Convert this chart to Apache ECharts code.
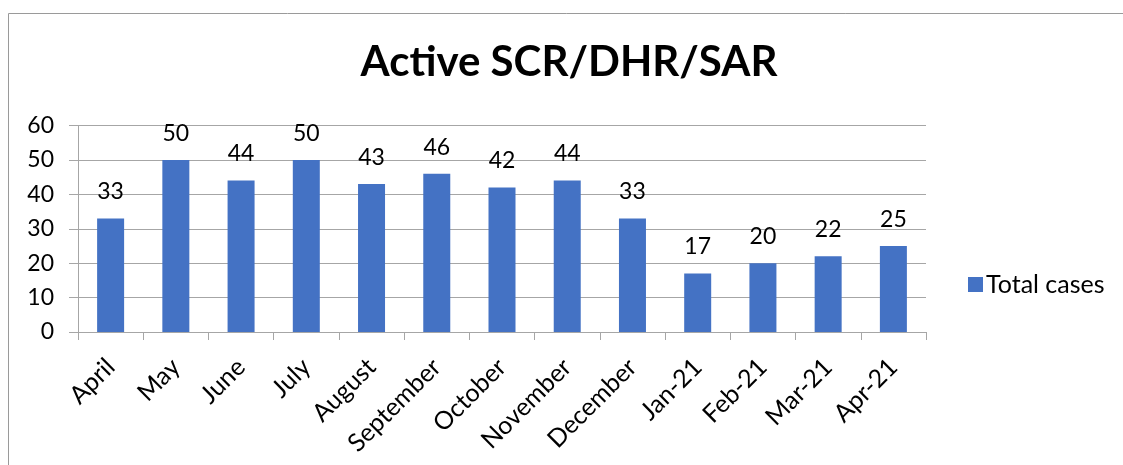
<!DOCTYPE html>
<html>
<head>
<meta charset="utf-8">
<script src="https://cdn.jsdelivr.net/npm/echarts@6/dist/echarts.min.js"></script>
<style>
html,body{margin:0;padding:0;background:#fff;}
#chart{width:1123px;height:465px;}
</style>
</head>
<body>
<div id="chart"></div>
<script>
const categories = ['April','May','June','July','August','September','October','November','December','Jan-21','Feb-21','Mar-21','Apr-21'];
const totalCases = [33,50,44,50,43,46,42,44,33,17,20,22,25];
const yTicks = [0,10,20,30,40,50,60];
const seriesName = 'Total cases';
const titleText = 'Active SCR/DHR/SAR';

const FONT = 'Lato';
const chart = echarts.init(document.getElementById('chart'), null, {renderer:'canvas'});
chart.setOption({
  animation:false,
  backgroundColor:'#fff',
  textStyle:{fontFamily:FONT},
  title:{
    text:titleText,
    left:569,
    textAlign:'center',
    top:41,
    padding:0,
    textStyle:{fontFamily:FONT,fontWeight:'bold',fontSize:42,color:'#000'}
  },
  graphic:[{
    type:'rect',
    shape:{x:8.5,y:13.5,width:1200,height:500},
    style:{fill:null,stroke:'#9a9a9a',lineWidth:1},
    silent:true
  }],
  legend:{
    data:[seriesName],
    left:968,
    top:272,
    padding:0,
    orient:'vertical',
    itemWidth:15,
    itemHeight:15,
    itemGap:6,
    icon:'rect',
    textStyle:{fontFamily:FONT,fontSize:25,color:'#000',padding:[0,0,0,-2]}
  },
  grid:{left:78,right:197,top:125.5,bottom:133,containLabel:false},
  xAxis:{
    type:'category',
    data:categories,
    boundaryGap:true,
    axisLine:{show:true,lineStyle:{color:'#a6a6a6',width:1}},
    axisTick:{show:true,length:8,inside:false,alignWithLabel:false,lineStyle:{color:'#a6a6a6'}},
    axisLabel:{rotate:45,fontFamily:FONT,fontSize:25,color:'#000',margin:31,interval:0}
  },
  yAxis:{
    type:'value',
    min:yTicks[0],
    max:yTicks[yTicks.length-1],
    interval:yTicks[1]-yTicks[0],
    axisLine:{show:true,lineStyle:{color:'#a6a6a6',width:1}},
    axisTick:{show:true,length:9,lineStyle:{color:'#a6a6a6'}},
    axisLabel:{fontFamily:FONT,fontSize:23,color:'#000',margin:24},
    splitLine:{show:true,lineStyle:{color:'#a6a6a6',width:1}}
  },
  series:[{
    name:seriesName,
    type:'bar',
    data:totalCases,
    barWidth:27,
    itemStyle:{color:'#4472C4'},
    label:{show:true,position:'top',distance:15,fontFamily:FONT,fontSize:23,color:'#000'}
  }]
});
</script>
</body>
</html>
